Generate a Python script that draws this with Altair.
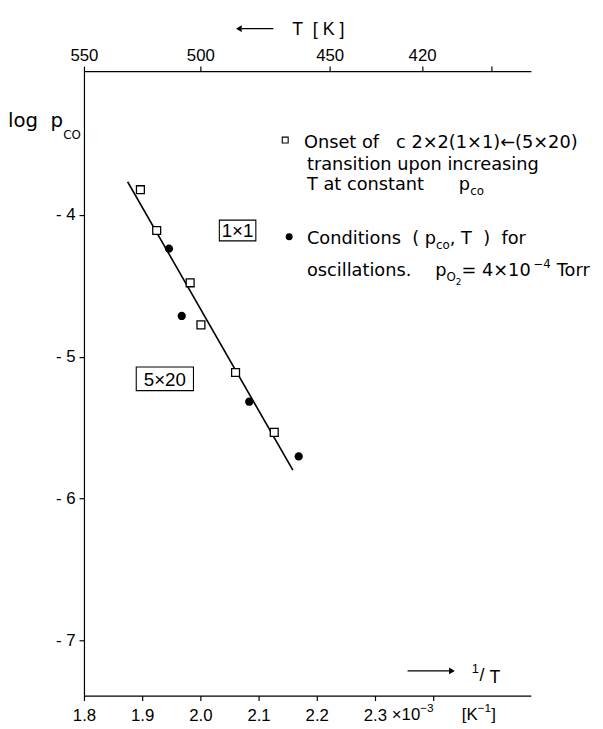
import altair as alt
import pandas as pd

# ---------------- data ----------------
sq_x = [1.897, 1.925, 1.9825, 2.001, 2.0605, 2.127]
sq_y = [-3.821, -4.109, -4.478, -4.775, -5.111, -5.533]
dot_x = [1.946, 1.968, 2.084, 2.169]
dot_y = [-4.237, -4.712, -5.317, -5.703]
fit_x = [1.875, 2.159]
fit_y = [-3.765, -5.80]
phase_labels = ["1×1", "5×20"]
phase_x = [2.064, 1.939]
phase_y = [-4.109, -5.155]
bottom_ticks = [1.8, 1.9, 2.0, 2.1, 2.2, 2.3, 2.4]
bottom_labels = ["1.8", "1.9", "2.0", "2.1", "2.2", "2.3", ""]
top_ticks = [1.8, 2.0, 2.2222, 2.381, 2.5]
top_labels = ["550", "500", "450", "420", ""]
y_ticks = [-4, -5, -6, -7]

X_DOM = [1.8, 2.568]
Y_DOM = [-7.39, -2.984]
W, H = 453, 633

xs = alt.Scale(domain=X_DOM, nice=False, zero=False)
ys = alt.Scale(domain=Y_DOM, nice=False, zero=False)

def label_expr(vals, labs):
    s = ""
    for v, l in zip(vals, labs):
        s += f"abs(datum.value - ({v})) < 0.001 ? '{l}' : "
    return s + "''"

axis_common = dict(title=None, grid=False, tickSize=5, domainColor="black", tickColor="black",
                   domainWidth=1.2, tickWidth=1.2, labelColor="black", labelFont="Liberation Sans",
                   labelFontSize=17, labelFlush=False, labelOverlap=False)

sq_df = pd.DataFrame({"x": sq_x, "y": sq_y})
dot_df = pd.DataFrame({"x": dot_x, "y": dot_y})
fit_df = pd.DataFrame({"x": fit_x, "y": fit_y})
ph_df = pd.DataFrame({"x": phase_x, "y": phase_y, "t": phase_labels})
top_df = pd.DataFrame({"x": top_ticks})

# axes layers
axes_layer = alt.Chart(sq_df).mark_point(opacity=0).encode(
    x=alt.X("x:Q", scale=xs, axis=alt.Axis(orient="bottom", values=bottom_ticks,
            labelExpr=label_expr(bottom_ticks, bottom_labels), labelPadding=7, **axis_common)),
    y=alt.Y("y:Q", scale=ys, axis=alt.Axis(orient="left", values=y_ticks,
            labelExpr="'- ' + abs(datum.value)", labelPadding=4, **axis_common)),
)
top_layer = alt.Chart(top_df).mark_point(opacity=0).encode(
    x=alt.X("x:Q", scale=xs, axis=alt.Axis(orient="top", values=top_ticks,
            labelExpr=label_expr(top_ticks, top_labels), labelPadding=2, **axis_common)),
    y=alt.value(0),
)

def X(): return alt.X("x:Q", scale=xs, axis=None)
def Y(): return alt.Y("y:Q", scale=ys, axis=None)

fit_line = alt.Chart(fit_df).mark_line(color="black", strokeWidth=1.6).encode(x=X(), y=Y())
squares = alt.Chart(sq_df).mark_point(shape="square", size=64, filled=True, fill="white",
                                      stroke="black", strokeWidth=1.3, opacity=1).encode(x=X(), y=Y())
dots = alt.Chart(dot_df).mark_point(shape="circle", size=70, filled=True, color="black",
                                    opacity=1).encode(x=X(), y=Y())

box1 = alt.Chart(ph_df.iloc[[0]]).mark_rect(fill="white", stroke="black", strokeWidth=1.1,
        xOffset=-18.5, x2Offset=18.5, yOffset=-10.5, y2Offset=10.5).encode(
        x=X(), x2="x", y=Y(), y2="y")
box2 = alt.Chart(ph_df.iloc[[1]]).mark_rect(fill="white", stroke="black", strokeWidth=1.1,
        xOffset=-29, x2Offset=29, yOffset=-12, y2Offset=12).encode(
        x=X(), x2="x", y=Y(), y2="y")
box_text = alt.Chart(ph_df).mark_text(font="Liberation Sans", fontSize=19, color="black",
                                      baseline="middle", align="center", dy=1).encode(
    x=X(), y=Y(), text="t:N")

# ---------------- annotation text layout (pixel positions in plot area) ----------------
NB = "\u00a0"
DJ = {' ': 0.318, NB: 0.318, '(': 0.390, ')': 0.390, ',': 0.318, '.': 0.318, '/': 0.337,
      '=': 0.838, '×': 0.838, '−': 0.838, '←': 0.838, 'C': 0.698, 'K': 0.656, 'O': 0.787,
      'T': 0.611, '[': 0.390, ']': 0.390, 'a': 0.613, 'c': 0.550, 'd': 0.635, 'e': 0.615,
      'f': 0.352, 'g': 0.635, 'i': 0.278, 'l': 0.278, 'n': 0.634, 'o': 0.612, 'p': 0.635,
      'r': 0.411, 's': 0.521, 't': 0.392, 'u': 0.634, '-': 0.361}
LI = {' ': 0.278, NB: 0.278, '×': 0.584, '−': 0.584, '[': 0.278, ']': 0.278, 'K': 0.667,
      'T': 0.611, '/': 0.278, '(': 0.333, ')': 0.333}

def tw(text, table):
    return sum(0.636 if (ch.isdigit() and table is DJ) else 0.556 if ch.isdigit()
               else table.get(ch, 0.6) for ch in text)

def layout(segs, x0, y0, table):
    rows, x = [], x0
    for seg in segs:
        text, size, dy = seg[:3]
        x += seg[3] if len(seg) > 3 else 0
        text = text.replace(" ", NB)
        rows.append({"px": x, "py": y0 + dy, "t": text, "s": size})
        x += tw(text, table) * size
    return rows

dj_rows = []
dj_rows += layout([("Onset of   c 2×2(1×1)←(5×20)", 18, 0)], 223, 78, DJ)
dj_rows += layout([("transition upon increasing", 18, 0)], 226, 100, DJ)
dj_rows += layout([("T at constant", 18, 0)], 226, 121, DJ)
dj_rows += layout([("p", 18, 0), ("co", 12, 5)], 380, 121, DJ)
dj_rows += layout([("Conditions  ( p", 18, 0), ("co", 12, 5), (", T  )  for", 18, 0)], 226, 175, DJ)
dj_rows += layout([("oscillations.", 18, 0)], 226, 208, DJ)
dj_rows += layout([("p", 18, 0), ("O", 12, 5), ("2", 9, 9), (" = 4×10", 18, 0),
                   ("−4", 12, -8, -3), ("Torr", 18, 0, 6)], 356, 208, DJ)
dj_rows += layout([("log  p", 20, 0), ("CO", 12, 12)], -77, 57, DJ)

li_rows = []
li_rows += layout([("T  [ K ]", 18, 0)], 211, -37, LI)
li_rows += layout([("×10", 17, 0), ("−3", 12, -8)], 312, 658, LI)
li_rows += layout([("[K", 17, 0), ("−1", 12, -8), (" ]", 17, 0)], 383, 658, LI)
li_rows += layout([("1", 13, 0)], 393, 610, LI)
li_rows += layout([("/", 18, 0)], 401, 618, LI)
li_rows += layout([("T", 18, 0)], 411, 620, LI)

def text_layer(rows, font):
    return alt.Chart(pd.DataFrame(rows)).mark_text(font=font, color="black", align="left",
                                                   baseline="alphabetic").encode(
        x=alt.X("px:Q", scale=None, axis=None),
        y=alt.Y("py:Q", scale=None, axis=None),
        text="t:N",
        size=alt.Size("s:Q", scale=None, legend=None))

dj_text = text_layer(dj_rows, "DejaVu Sans")
li_text = text_layer(li_rows, "Liberation Sans")

# legend symbols
leg_sq = alt.Chart(pd.DataFrame({"px": [204], "py": [70]})).mark_point(
    shape="square", size=36, filled=True, fill="white", stroke="black", strokeWidth=1.1, opacity=1).encode(
    x=alt.X("px:Q", scale=None, axis=None), y=alt.Y("py:Q", scale=None, axis=None))
leg_dot = alt.Chart(pd.DataFrame({"px": [208], "py": [168]})).mark_point(
    shape="circle", size=50, filled=True, color="black", opacity=1).encode(
    x=alt.X("px:Q", scale=None, axis=None), y=alt.Y("py:Q", scale=None, axis=None))

# arrows
arrows = pd.DataFrame({"x1": [160, 328], "x2": [192, 370], "y": [-43, 608]})
arrow_shaft = alt.Chart(arrows).mark_rule(color="black", strokeWidth=1.3).encode(
    x=alt.X("x1:Q", scale=None, axis=None), x2="x2:Q", y=alt.Y("y:Q", scale=None, axis=None))
heads = pd.DataFrame({"px": [157, 373], "py": [-43, 608], "sh": ["triangle-left", "triangle-right"]})
arrow_head = alt.Chart(heads).mark_point(filled=True, color="black", size=45, opacity=1).encode(
    x=alt.X("px:Q", scale=None, axis=None), y=alt.Y("py:Q", scale=None, axis=None),
    shape=alt.Shape("sh:N", scale=None, legend=None))

chart = alt.layer(
    axes_layer, top_layer, fit_line, box1, box2, box_text, squares, dots,
    dj_text, li_text, leg_sq, leg_dot, arrow_shaft, arrow_head
).resolve_axis(x="independent", y="independent").properties(
    width=W, height=H,
    autosize=alt.AutoSizeParams(type="none"),
    padding={"left": 77, "top": 59, "right": 65, "bottom": 29},
).configure_view(stroke=None)

chart.save("out.html", embed_options={"renderer": "svg", "actions": False})
